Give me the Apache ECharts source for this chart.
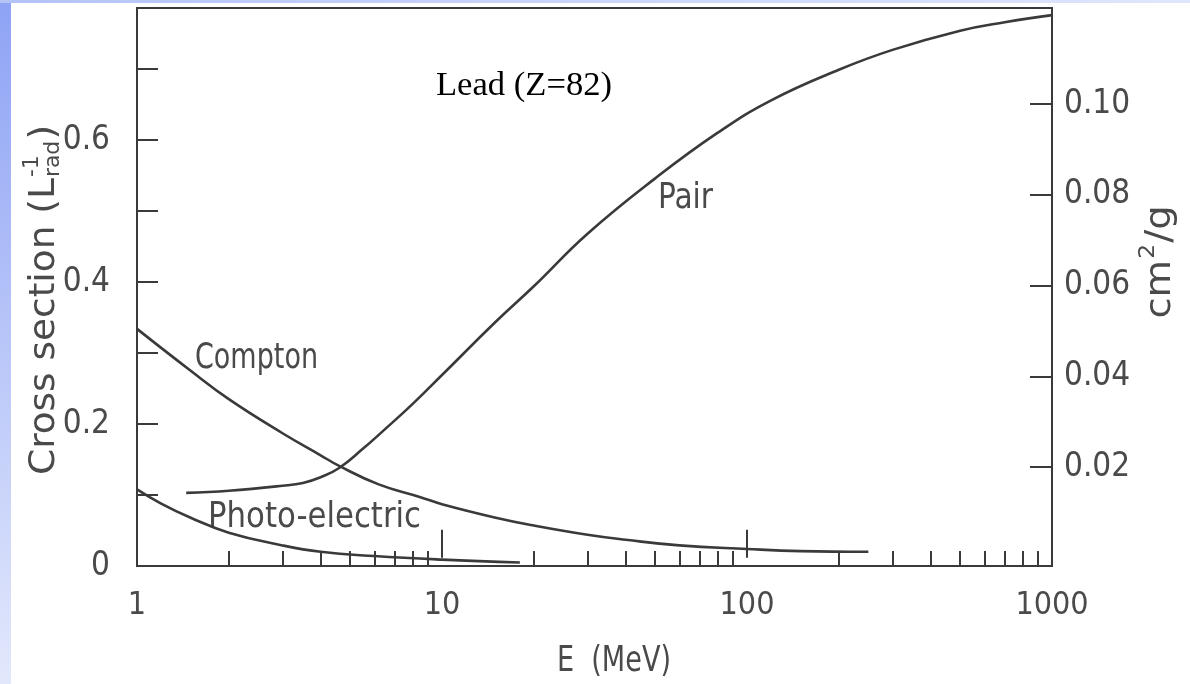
<!DOCTYPE html>
<html>
<head>
<meta charset="utf-8">
<script src="https://cdn.jsdelivr.net/npm/echarts@6/dist/echarts.min.js"></script>
<style>
  html, body { margin: 0; padding: 0; background: #fff; }
  #wrap { position: relative; width: 1190px; height: 684px; overflow: hidden; }
  #chart { position: absolute; left: 0; top: 0; width: 1190px; height: 684px; }
  #side { position: absolute; left: 0; top: 0; width: 11px; height: 684px; background: linear-gradient(to bottom, #8ea3f5, #e2e8fc); }
  #topbar { position: absolute; left: 0; top: 0; width: 1190px; height: 3px; background: linear-gradient(to right, #b4c3f8, #dfe6fc); }
</style>
</head>
<body>
<div id="wrap">
  <div id="chart"></div>
  <div id="side"></div>
  <div id="topbar"></div>
</div>
<script>
// energies in MeV, cross sections in 1/L_rad
const pairE = [1.45, 2, 3, 3.5, 4, 4.6, 5.5, 6.4, 8, 10, 15, 20, 30, 50, 80, 120, 200, 300, 500, 700, 1000];
const pairV = [0.103, 0.106, 0.113, 0.117, 0.125, 0.138, 0.165, 0.190, 0.228, 0.269, 0.344, 0.394, 0.468, 0.546, 0.610, 0.656, 0.699, 0.727, 0.754, 0.766, 0.776];

const comptonE = [1, 1.5, 2, 3, 4, 4.6, 6.2, 8.5, 10, 15, 20, 30, 40, 60, 100, 150, 250];
const comptonV = [0.334, 0.275, 0.235, 0.187, 0.156, 0.141, 0.115, 0.097, 0.087, 0.068, 0.057, 0.044, 0.037, 0.029, 0.024, 0.021, 0.020];

const photoE = [1, 1.2, 1.5, 2, 3, 4, 6, 10, 18];
const photoV = [0.108, 0.088, 0.068, 0.047, 0.029, 0.020, 0.014, 0.009, 0.005];

// axis ticks and labels
const xLabels = [1, 10, 100, 1000];
const xMajorTicks = [10, 100];
const xMinorTicks = [2, 3, 4, 5, 6, 7, 8, 9, 20, 30, 40, 50, 60, 70, 80, 90, 200, 300, 400, 500, 600, 700, 800, 900];
const leftTicks = [0.1, 0.2, 0.3, 0.4, 0.5, 0.6, 0.7];
const leftLabels = [0, 0.2, 0.4, 0.6];
const rightTicks = [0.02, 0.04, 0.06, 0.08, 0.10];

const FONT = "'Liberation Sans Narrow', 'DejaVu Sans Condensed', Roboto, sans-serif";
const SERIF = "'Liberation Serif', 'Times New Roman', serif";
const INK = '#3a3a3a';
const TXT = '#4a4a4a';

const toPts = (es, vs) => es.map((e, i) => [e, vs[i]]);

// text width helper, used to fit the hand-lettered labels
const ctx = document.createElement('canvas').getContext('2d');
const tw = (s, size, fam) => { ctx.font = size + 'px ' + (fam || FONT); return ctx.measureText(s).width; };

const piece = (txt, x, y, size) => ({
  type: 'text', x: x, y: y,
  style: { text: txt, font: size + 'px ' + FONT, fill: TXT, textAlign: 'left', textVerticalAlign: 'middle' }
});

// rotated axis title built from pieces, stretched along its length to a target span
function vTitle(parts, cx, cy, span) {
  let x = 0;
  const kids = [];
  parts.forEach(p => {
    if (p.stack) {
      const ws = Math.max.apply(null, p.stack.map(s => tw(s[0], s[2]))) + 2;
      p.stack.forEach(s => kids.push(piece(s[0], x + 1, s[1], s[2])));
      x += ws;
    } else {
      kids.push(piece(p[0], x, 0, p[1]));
      x += tw(p[0], p[1]);
    }
  });
  const w = x;
  kids.forEach(k => { k.x -= w / 2; });
  return { type: 'group', x: cx, y: cy, rotation: Math.PI / 2, scaleX: span / w, children: kids };
}

// free text, squeezed horizontally to the width it has in the picture
function note(txt, x, y, size, width, fam, color) {
  const w = tw(txt, size, fam);
  return {
    type: 'text', x: x, y: y, scaleX: width / w,
    style: { text: txt, font: size + 'px ' + (fam || FONT), fill: color || TXT, textAlign: 'left', textVerticalAlign: 'middle' }
  };
}

const lineSeries = (name, data) => ({
  name: name, type: 'line', data: data, smooth: 0.45,
  xAxisIndex: 0, yAxisIndex: 0, showSymbol: false, symbol: 'none',
  lineStyle: { color: INK, width: 2.6 }
});

const tickStyle = { color: INK, width: 2 };

const chart = echarts.init(document.getElementById('chart'), null, { renderer: 'canvas' });
chart.setOption({
  animation: false,
  backgroundColor: '#fff',
  grid: { left: 137, right: 138, top: 8, bottom: 118, show: true, borderColor: INK, borderWidth: 2 },
  xAxis: [
    {
      type: 'log', logBase: 10, min: 1, max: 1000, position: 'bottom',
      axisLine: { lineStyle: { color: INK, width: 2 } },
      axisTick: { inside: true, length: 15, lineStyle: tickStyle, customValues: xMinorTicks },
      axisLabel: { customValues: xLabels, margin: 24, fontSize: 32, fontFamily: FONT, color: TXT,
        formatter: v => String(Math.round(v)) },
      splitLine: { show: false }, minorTick: { show: false }
    },
    {
      type: 'log', logBase: 10, min: 1, max: 1000, position: 'bottom',
      axisLine: { show: false },
      axisTick: { inside: true, length: 28, lineStyle: tickStyle, customValues: xMajorTicks },
      axisLabel: { show: false },
      splitLine: { show: false }
    }
  ],
  yAxis: [
    {
      type: 'value', min: 0, max: 0.786, position: 'left',
      axisLine: { show: true, lineStyle: { color: INK, width: 2 } },
      axisTick: { show: true, inside: true, length: 21, lineStyle: tickStyle, customValues: leftTicks },
      axisLabel: { customValues: leftLabels, margin: 27, fontSize: 33, fontFamily: FONT, color: TXT,
        formatter: v => (v === 0 ? '0' : v.toFixed(1)) },
      splitLine: { show: false }
    },
    {
      type: 'value', min: -0.0018, max: 0.1212, position: 'right',
      axisLine: { show: true, lineStyle: { color: INK, width: 2 } },
      axisTick: { show: true, inside: true, length: 22, lineStyle: tickStyle, customValues: rightTicks },
      axisLabel: { customValues: rightTicks, margin: 12, fontSize: 33, fontFamily: FONT, color: TXT,
        formatter: v => v.toFixed(2) },
      splitLine: { show: false }
    }
  ],
  series: [
    lineSeries('Pair', toPts(pairE, pairV)),
    lineSeries('Compton', toPts(comptonE, comptonV)),
    lineSeries('Photo-electric', toPts(photoE, photoV))
  ],
  graphic: [
    vTitle([['Cross section (L', 36], { stack: [['-1', -12, 21], ['rad', 9, 21]] }, [')', 36]], 45, 300, 350),
    vTitle([['cm', 36], { stack: [['2', -13, 22]] }, ['/g', 36]], 1161, 262, 113),
    note('E  (MeV)', 557, 662, 36, 114),
    note('Compton', 195, 359, 36, 123),
    note('Pair', 658, 199, 36, 55),
    note('Photo-electric', 208, 518, 36, 213),
    note('Lead (Z=82)', 436, 86, 34, 176, SERIF, '#000')
  ]
});
</script>
</body>
</html>
